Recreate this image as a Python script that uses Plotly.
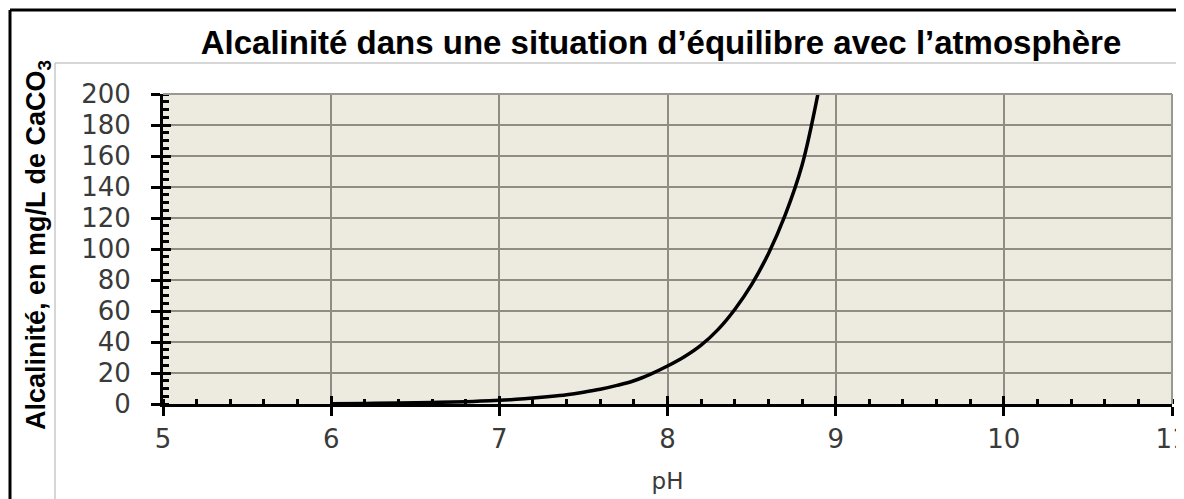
import plotly.graph_objects as go

ph = [6.0, 6.2, 6.4, 6.6, 6.8, 7.0, 7.1, 7.2, 7.3, 7.4, 7.5, 7.6, 7.7, 7.8, 7.9, 8.0,
      8.1, 8.2, 8.3, 8.4, 8.5, 8.6, 8.7, 8.8, 8.9]
alcalinite = [0.2, 0.4, 0.6, 1.0, 1.5, 2.4, 3.0, 3.8, 4.8, 6.0, 7.6, 9.5, 12.0, 15.0, 19.3, 24.5,
              30.5, 38.0, 48.0, 61.0, 77.0, 97.0, 122.0, 154.0, 203.0]

x_ticks = [5, 6, 7, 8, 9, 10, 11]
y_ticks = [0, 20, 40, 60, 80, 100, 120, 140, 160, 180, 200]

title_text = "Alcalinité dans une situation d’équilibre avec l’atmosphère"
y_title = "Alcalinité, en mg/L de CaCO<sub>3</sub>"
x_title = "pH"

# the page body has an 8px default margin; all pixel positions below are in figure coordinates
OFF = 8
W, H = 1184 - OFF, 499 - OFF
L, R, T, B = 163 - OFF, 1172 - OFF, 94 - OFF, 404 - OFF  # plot area in pixels


def px_x(p):
    return (p - OFF - L) / (R - L)


def px_y(p):
    return (B - (p - OFF)) / (B - T)


fig = go.Figure()
fig.add_trace(go.Scatter(
    x=ph, y=alcalinite, mode="lines",
    line=dict(color="black", width=3.5, shape="spline", smoothing=1.0),
    showlegend=False, hoverinfo="x+y"))
# invisible companion trace for the overlay axes (crossing major ticks)
fig.add_trace(go.Scatter(x=ph, y=alcalinite, mode="none", xaxis="x2", yaxis="y2",
                         showlegend=False, hoverinfo="skip"))

tickfont = dict(family="DejaVu Sans", size=26, color="#3a3a3a")
grid = "#8E8C84"

fig.update_layout(
    width=W, height=H,
    margin=dict(l=L, r=W - R, t=T, b=H - B, autoexpand=False),
    paper_bgcolor="white",
    plot_bgcolor="#EDEAE0",
    title=dict(text=title_text, x=(661 - OFF) / W, xref="container", xanchor="center",
               y=1 - (42 - OFF) / H, yanchor="middle",
               font=dict(family="Liberation Sans", size=33, color="black", weight="bold")),
    xaxis=dict(range=[5, 11], tickvals=x_ticks, ticks="outside", ticklen=9, tickwidth=3,
               tickcolor="black", showline=True, linecolor="black", linewidth=3,
               showgrid=True, gridcolor=grid, gridwidth=2, zeroline=False,
               tickfont=tickfont, ticklabelstandoff=1, ticklabeloverflow="allow",
               minor=dict(dtick=0.2, ticks="inside", ticklen=5, tickwidth=3,
                          tickcolor="black", showgrid=False),
               title=dict(text=x_title, font=dict(family="DejaVu Sans", size=23, color="#3a3a3a"),
                          standoff=20)),
    yaxis=dict(range=[0, 200], tickvals=y_ticks, ticks="outside", ticklen=9, tickwidth=3,
               tickcolor="black", showline=True, linecolor="black", linewidth=3,
               showgrid=True, gridcolor=grid, gridwidth=2, zeroline=False,
               tickfont=tickfont, ticklabelstandoff=15, ticklabeloverflow="allow",
               minor=dict(dtick=5, ticks="inside", ticklen=6, tickwidth=2.5,
                          tickcolor="black", showgrid=False)),
    xaxis2=dict(overlaying="x", anchor="y", side="bottom", range=[5, 11], tickvals=x_ticks,
                ticks="inside", ticklen=8, tickwidth=3, tickcolor="black",
                showticklabels=False, showgrid=False, showline=False, zeroline=False),
    yaxis2=dict(overlaying="y", anchor="x", side="left", range=[0, 200], tickvals=y_ticks,
                ticks="inside", ticklen=8, tickwidth=3, tickcolor="black",
                showticklabels=False, showgrid=False, showline=False, zeroline=False),
)

shapes = [
    # gray plot-area border (top and right)
    dict(type="line", xref="paper", yref="paper", x0=0, x1=1, y0=1, y1=1,
         line=dict(color="#9a9890", width=2)),
    dict(type="line", xref="paper", yref="paper", x0=1, x1=1, y0=0, y1=1,
         line=dict(color="#9a9890", width=2)),
    # outer black frame
    dict(type="line", xref="paper", yref="paper", x0=px_x(10), x1=px_x(1200),
         y0=px_y(10), y1=px_y(10), line=dict(color="black", width=3)),
    dict(type="line", xref="paper", yref="paper", x0=px_x(10), x1=px_x(10),
         y0=px_y(10), y1=px_y(510), line=dict(color="black", width=3)),
    # inner light gray frame
    dict(type="line", xref="paper", yref="paper", x0=px_x(55), x1=px_x(1200),
         y0=px_y(63), y1=px_y(63), line=dict(color="#c8c8c8", width=1.5)),
    dict(type="line", xref="paper", yref="paper", x0=px_x(55), x1=px_x(55),
         y0=px_y(63), y1=px_y(510), line=dict(color="#c8c8c8", width=1.5)),
]
fig.update_layout(shapes=shapes)

fig.add_annotation(text=y_title, textangle=-90, xref="paper", yref="paper",
                   x=px_x(38), y=px_y(245), xanchor="center", yanchor="middle",
                   showarrow=False,
                   font=dict(family="Liberation Sans", size=27, color="black", weight="bold"))

fig.write_html("out.html")
